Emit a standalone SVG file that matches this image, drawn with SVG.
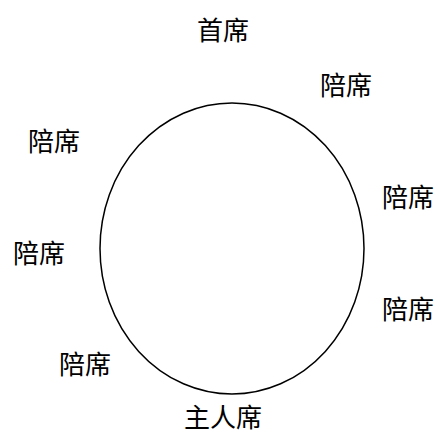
<svg xmlns="http://www.w3.org/2000/svg" width="440" height="434" viewBox="0 0 440 434">
<style>
text{font-family:"Noto Sans CJK SC","Noto Sans CJK JP",sans-serif;font-size:26px;fill:#000;text-anchor:middle}
.table{fill:none;stroke:#000;stroke-width:1.5}
</style>
<rect width="440" height="434" fill="#fff"/>
<g id="table"><ellipse class="table" cx="232" cy="248.5" rx="132" ry="145.5"/></g>
<g id="connectors"></g>
<g id="seat-head"><text x="223" y="40">首席</text></g>
<g id="seat-1"><text x="346" y="95">陪席</text></g>
<g id="seat-2"><text x="54" y="151">陪席</text></g>
<g id="seat-3"><text x="408" y="207">陪席</text></g>
<g id="seat-4"><text x="39" y="263">陪席</text></g>
<g id="seat-5"><text x="408" y="319">陪席</text></g>
<g id="seat-6"><text x="85" y="374">陪席</text></g>
<g id="seat-host"><text x="223" y="427">主人席</text></g>
</svg>
